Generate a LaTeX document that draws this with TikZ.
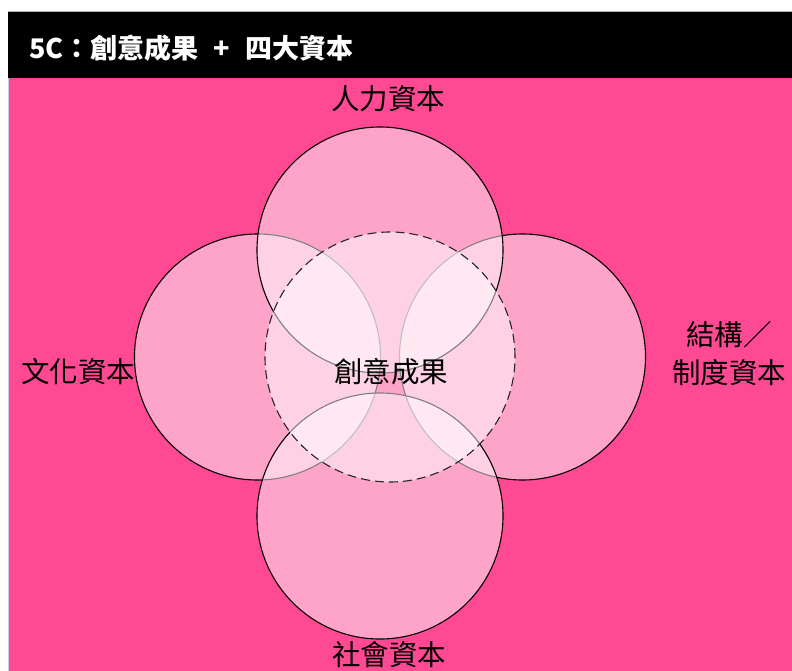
\documentclass[tikz,border=0pt]{standalone}
\usepackage{fontspec}
\newfontfamily\cjk{Noto Sans CJK TC}
\definecolor{bgpink}{RGB}{255,73,147}
\tikzset{
  outer/.style={circle, inner sep=0pt, minimum size=246pt, fill=white, fill opacity=0.5, draw=black, line width=1.1pt},
  coremark/.style={circle, inner sep=0pt, minimum size=250pt, fill=white, fill opacity=0.5},
  coreline/.style={circle, inner sep=0pt, minimum size=250pt, draw=black!85, line width=1.1pt, dash pattern=on 9pt off 5pt},
  lbl/.style={font=\cjk\fontsize{28.5}{34}\selectfont, text=black, inner sep=0pt, align=center}
}
\begin{document}
\begin{tikzpicture}[x=1pt,y=-1pt]
\useasboundingbox (0,0) rectangle (792,671);
\fill[white] (0,0) rectangle (792,671);
\fill[bgpink] (8,78) rectangle (792,671);
\draw[black!30!blue!20, line width=0.8pt] (8,78) -- (8,671);
\fill[black] (8,12) rectangle (792,78);
\draw[gray!60, line width=0.8pt] (8,11.5) -- (792,11.5);
\node[anchor=west, text=white, font=\cjk\bfseries\fontsize{27}{32}\selectfont, inner sep=0pt] (title) at (29,48) {5C：創意成果\hspace{15pt}+\hspace{15pt}四大資本};
% outer circles
\node[outer] (cleft) at (257.5,357) {};
\node[outer] (cright) at (522.5,357) {};
\node[outer] (ctop) at (380,250) {};
\node[outer] (cbot) at (380,516) {};
% core
\node[coremark] (corefill) at (390,357) {};
\node[coreline] (core) at (390,357) {};
% labels
\node[lbl] (lhuman) at (388,99) {人力資本};
\node[lbl] (lculture) at (78,372) {文化資本};
\node[lbl] (lstruct) at (729,354) {結構／\\[4pt]制度資本};
\node[lbl] (lcore) at (391,372) {創意成果};
\node[lbl] (lsocial) at (389,655) {社會資本};
\end{tikzpicture}
\end{document}
